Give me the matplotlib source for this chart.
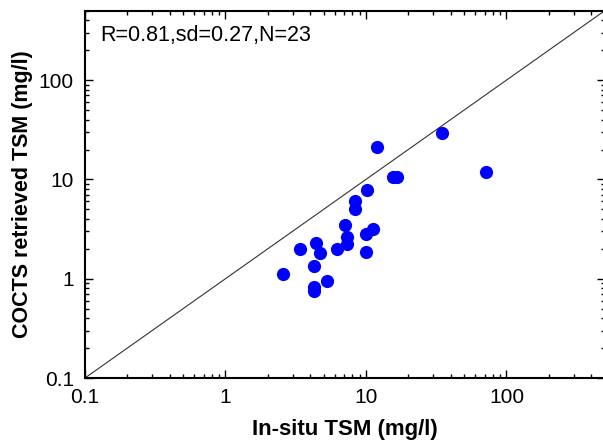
import matplotlib
matplotlib.use("Agg")
import matplotlib.pyplot as plt
from matplotlib.ticker import LogLocator, FixedLocator, FixedFormatter, NullFormatter

insitu = [34.9, 12.0, 15.6, 16.5, 71.1, 10.1, 8.35, 8.3, 7.13, 11.2, 9.95, 7.36,
          7.36, 3.39, 4.40, 4.71, 6.18, 9.95, 4.29, 2.58, 5.25, 4.29, 4.29]
cocts = [29.1, 21.3, 10.6, 10.5, 12.0, 7.9, 6.05, 5.0, 3.50, 3.16, 2.80, 2.65,
         2.22, 1.99, 2.31, 1.80, 1.99, 1.86, 1.35, 1.12, 0.955, 0.83, 0.76]
tick_vals = [0.1, 1, 10, 100]
tick_labels = ["0.1", "1", "10", "100"]
lims = [0.1, 500]
stats_text = "R=0.81,sd=0.27,N=23"

plt.rcParams['font.family'] = ['Liberation Sans', 'DejaVu Sans']

fig = plt.figure(figsize=(6.03, 4.44), dpi=100)
ax = fig.add_axes([85/603, 66/444, (604.7-85)/603, (378-10.7)/444])

ax.plot(lims, lims, color='#333333', lw=0.8, zorder=1)
ax.plot(insitu, cocts, 'o', color='#0000ff', markersize=9.5, markeredgewidth=0, zorder=2)

ax.set_xscale('log')
ax.set_yscale('log')
ax.set_xlim(lims)
ax.set_ylim(lims)

for axis in (ax.xaxis, ax.yaxis):
    axis.set_major_locator(FixedLocator(tick_vals))
    axis.set_major_formatter(FixedFormatter(tick_labels))
    axis.set_minor_locator(LogLocator(base=10, subs=range(2, 10)))
    axis.set_minor_formatter(NullFormatter())

ax.tick_params(which='both', direction='in', top=True, right=True, width=1.0)
ax.tick_params(which='major', length=6, labelsize=15)
ax.tick_params(axis='x', which='major', pad=7)
ax.tick_params(axis='y', which='major', pad=8)
ax.tick_params(which='minor', length=3)
for s in ax.spines.values():
    s.set_linewidth(1.5)

ax.set_xlabel("In-situ TSM (mg/l)", fontsize=16, fontweight='bold', labelpad=9)
ax.set_ylabel("COCTS retrieved TSM (mg/l)", fontsize=15.5, fontweight='bold', labelpad=4)

ax.text(0.03, 0.96, stats_text, transform=ax.transAxes, fontsize=15.5, va='top', ha='left')

fig.savefig("out.png", dpi=100)
